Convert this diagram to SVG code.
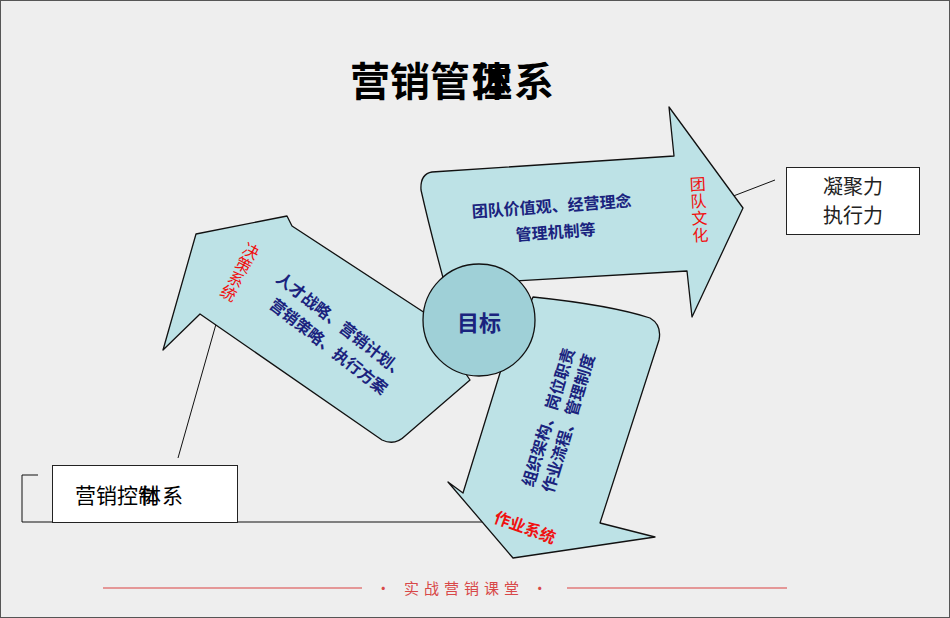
<svg xmlns="http://www.w3.org/2000/svg" width="950" height="618" viewBox="0 0 950 618">
<style>
.arr{fill:#bde2e6;stroke:#111;stroke-width:1.3;stroke-linejoin:round}
.cj{font-family:"Noto Sans CJK SC","Noto Sans",sans-serif}
.blue{fill:#1a237e;font-weight:700;font-size:16px}
.red{fill:#f01010;font-size:16px}
.ln{stroke:#111;stroke-width:1;fill:none}
</style>
<rect x="0.5" y="0.5" width="949" height="617" fill="#eeeeee" stroke="#555" stroke-width="1"/>
<g id="title" class="cj" font-size="40" font-weight="700" fill="#000">
<text x="350" y="96">营销管</text>
<text x="472" y="96">理</text>
<text x="472" y="96">体</text>
<text x="514" y="96">系</text>
</g>
<g id="connectors">
<path class="ln" d="M710,205 L775,180"/>
<path class="ln" d="M222,303 L178,458"/>
<path class="ln" d="M38,475 H22 V522 H488"/>
</g>
<g id="arrow-left">
<path class="arr" d="M196,234 L287,216 L292,226 L425,313 L470,380 L405,436 Q395,446 382,440 L200,314 L163,350 Z"/>
<g class="cj blue">
<text transform="translate(338,330) rotate(38)" text-anchor="middle">人才战略、营销计划、</text>
<text transform="translate(325,351) rotate(38)" text-anchor="middle">营销策略、执行方案</text>
</g>
<text class="cj red" transform="translate(240,272) rotate(28)" writing-mode="vertical-rl" text-anchor="middle">决策系统</text>
</g>
<g id="arrow-top">
<path class="arr" d="M432,172 L674,156 L669,107 L743,208 L692,317 L687,271 L445,285 Q430,230 421,190 Q420,174 432,172 Z"/>
<g class="cj blue">
<text transform="translate(552,212) rotate(-4)" text-anchor="middle">团队价值观、经营理念</text>
<text transform="translate(556,238) rotate(-4)" text-anchor="middle">管理机制等</text>
</g>
<text class="cj red" transform="translate(699,210) rotate(-3)" writing-mode="vertical-rl" text-anchor="middle" letter-spacing="1">团队文化</text>
</g>
<g id="arrow-bottom">
<path class="arr" d="M533,297 Q610,305 650,318 Q662,325 659,340 L600,523 L655,537 L513,558 L448,482 L463,493 L500,373 Z"/>
<g class="cj blue">
<text transform="translate(554,419) rotate(-73)" text-anchor="middle">组织架构、岗位职责</text>
<text transform="translate(574,425) rotate(-73)" text-anchor="middle">作业流程、管理制度</text>
</g>
<text class="cj red" font-weight="700" font-size="15" transform="translate(523,533) rotate(20)" text-anchor="middle">作业系统</text>
</g>
<g id="goal">
<circle cx="479" cy="320" r="56" fill="#9fd0d7" stroke="#111" stroke-width="1.3"/>
<text class="cj" x="479" y="331" text-anchor="middle" font-size="22" font-weight="700" fill="#1a237e">目标</text>
</g>
<g id="box-right">
<rect x="786.5" y="167.5" width="133" height="67" fill="#fff" stroke="#222"/>
<text class="cj" x="853" y="194" text-anchor="middle" font-size="20" fill="#222">凝聚力</text>
<text class="cj" x="853" y="223" text-anchor="middle" font-size="20" fill="#222">执行力</text>
</g>
<g id="box-left" class="cj" font-size="21" fill="#000">
<rect x="52.5" y="465.5" width="185" height="57" fill="#fff" stroke="#222"/>
<text x="75" y="503">营销控</text>
<text x="138" y="503">制</text>
<text x="140" y="503">体</text>
<text x="162" y="503">系</text>
</g>
<g id="footer">
<line x1="103" y1="588" x2="362" y2="588" stroke="#e07a7a" stroke-width="1.3"/>
<line x1="567" y1="588" x2="787" y2="588" stroke="#e07a7a" stroke-width="1.3"/>
<text class="cj" x="464" y="594" text-anchor="middle" font-size="15" fill="#d84848" letter-spacing="5">· 实战营销课堂 ·</text>
</g>
</svg>
